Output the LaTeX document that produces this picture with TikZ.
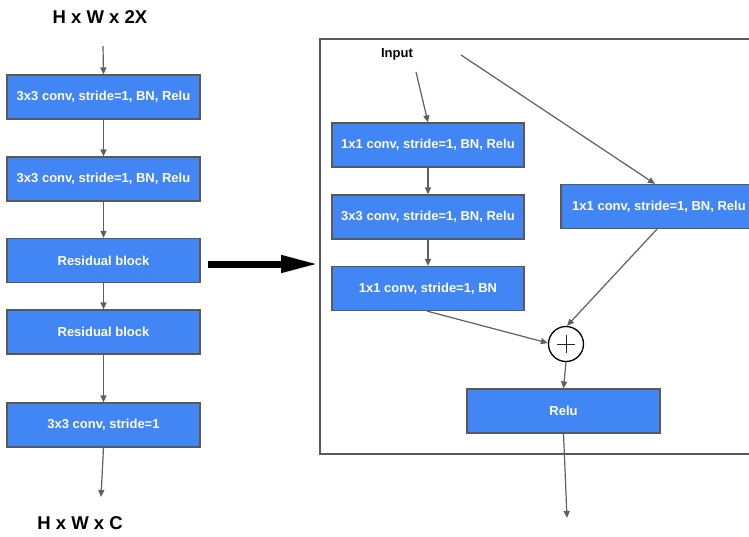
\documentclass[tikz,border=0pt]{standalone}
\usepackage{fontspec}
\setmainfont{Liberation Sans}
\usetikzlibrary{arrows.meta,calc}
\definecolor{blockblue}{HTML}{4285F4}
\definecolor{edgegray}{HTML}{595959}
\definecolor{linegray}{HTML}{5F5F5F}
\tikzset{
  block/.style={draw=edgegray, line width=1.2pt, fill=blockblue, text=white,
    font=\fontsize{13}{15}\selectfont\bfseries, minimum height=44pt, inner sep=0pt},
  wide/.style={block, minimum width=193pt},
  flow/.style={draw=linegray, line width=1.2pt, -{Triangle[length=7pt,width=6pt]}},
  dimlabel/.style={font=\fontsize{18.5}{20}\selectfont\bfseries, inner sep=0pt},
}
\begin{document}
\begin{tikzpicture}[x=1pt,y=-1pt]
\useasboundingbox (0,0) rectangle (749,536);
\clip (0,0) rectangle (749,536);

% ---- encoder column ----
\node[dimlabel] (top) at (100,17) {H x W x 2X};
\coordinate (topin) at (103,46);
\node[wide] (b1) at (103.5,97)   {3x3 conv, stride=1, BN, Relu};
\node[wide] (b2) at (103.5,179)  {3x3 conv, stride=1, BN, Relu};
\node[wide] (b3) at (103.5,260.5){Residual block};
\node[wide] (b4) at (103.5,332)  {Residual block};
\node[wide] (b5) at (103.5,425)  {3x3 conv, stride=1};
\coordinate (out) at (101,497);
\node[dimlabel] (bottom) at (80,523) {H x W x C};

\draw[flow] (topin) -- (b1.north);
\draw[flow] (b1.south) -- (b2.north);
\draw[flow] (b2.south) -- (b3.north);
\draw[flow] (b3.south) -- (b4.north);
\draw[flow] (b4.south) -- (b5.north);
\draw[flow] (b5.south) -- (out);

% ---- residual block detail ----
\node[draw=edgegray, line width=2pt, minimum width=460pt, minimum height=415pt,
      anchor=north west, inner sep=0pt] (frame) at (319,38) {};

\draw[line width=7pt, -{Triangle[length=38pt,width=16pt]}]
  ($(b3.east)+(7,3.5)$) -- (frame.west |- {$(b3.east)+(0,3.5)$});

\node[font=\fontsize{13}{15}\selectfont\bfseries, inner sep=0pt] (input) at (397,54) {Input};
\coordinate (inA) at (416,72);
\coordinate (inD) at (461,55);

\node[block, minimum width=192pt] (ba) at (428,145)   {1x1 conv, stride=1, BN, Relu};
\node[block, minimum width=192pt] (bb) at (428,217)   {3x3 conv, stride=1, BN, Relu};
\node[block, minimum width=192pt] (bc) at (428,288.5) {1x1 conv, stride=1, BN};
\node[block, minimum width=196pt] (bd) at (659,206.5) {1x1 conv, stride=1, BN, Relu};

\node[circle, draw=black, line width=1.3pt, fill=white, minimum size=35pt, inner sep=0pt] (plus) at (566,344) {};
\draw[line width=1pt, black!85] ($(plus)+(-9,0)$) -- ($(plus)+(9,0)$)
                                ($(plus)+(0,-9)$) -- ($(plus)+(0,9)$);

\node[block, minimum width=193pt] (relu) at (563.5,411) {Relu};
\coordinate (final) at (567,518);

\draw[flow] (inA) -- (ba.north);
\draw[flow] (inD) -- ($(bd.north)+(-4,0)$);
\draw[flow] (ba.south) -- (bb.north);
\draw[flow] (bb.south) -- (bc.north);
\draw[flow] ($(bc.south)+(-1,0)$) -- ($(plus.west)+(0,-1)$);
\draw[flow] ($(bd.south)+(-2,0)$) -- ($(plus.north)+(1,0)$);
\draw[flow] (plus.south) -- (relu.north);
\draw[flow] (relu.south) -- (final);
\end{tikzpicture}
\end{document}
